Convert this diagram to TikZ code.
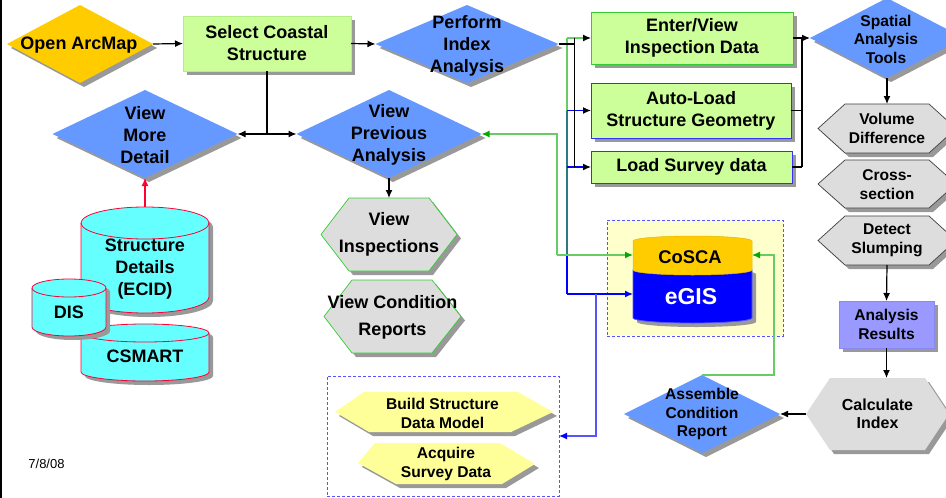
\documentclass[tikz,border=0pt]{standalone}
\usepackage{fontspec}
\setmainfont{Liberation Sans}
\usetikzlibrary{shapes.geometric,shadows,arrows.meta,calc}
\definecolor{gold}{HTML}{FFCC00}
\definecolor{diablue}{HTML}{6699FF}
\definecolor{lgreen}{HTML}{CCFF99}
\definecolor{lgreenb}{HTML}{B5EE88}
\definecolor{bgreen}{HTML}{33CC33}
\definecolor{bblue}{HTML}{3333FF}
\definecolor{hexgray}{HTML}{DDDDDD}
\definecolor{hexedge}{HTML}{404040}
\definecolor{hexyel}{HTML}{FFFF99}
\definecolor{lav}{HTML}{9999FF}
\definecolor{lavb}{HTML}{8888EE}
\definecolor{cyanf}{HTML}{66FFFF}
\definecolor{redb}{HTML}{FF0033}
\definecolor{paleyel}{HTML}{FFFFCC}
\definecolor{shadowgray}{HTML}{999999}
\definecolor{lineg}{HTML}{66CC66}
\definecolor{arrg}{HTML}{00AA00}
\definecolor{teal2}{HTML}{2A7A80}
\definecolor{egisblue}{HTML}{0000FF}
\definecolor{egisedge}{HTML}{5555FF}
\definecolor{dashblue}{HTML}{5555FF}
\definecolor{goldedge}{HTML}{E6B800}
\begin{document}
\begin{tikzpicture}[x=1pt,y=1pt,
  shad/.style={drop shadow={shadow xshift=4pt,shadow yshift=-4pt,fill=shadowgray,opacity=1}},
  bigfont/.style={font=\bfseries\fontsize{18}{22}\selectfont},
  midfont/.style={font=\bfseries\fontsize{15.6}{18.5}\selectfont},
  hexfont/.style={font=\bfseries\fontsize{18}{27}\selectfont},
  lbl/.style={inner sep=0pt,outer sep=0pt,align=center},
  ghost/.style={inner sep=0pt,outer sep=0pt,rectangle},
  dia/.style={diamond,inner sep=0pt,outer sep=0pt,fill=diablue,shad},
  box/.style={rectangle,inner sep=0pt,outer sep=0pt,align=center,fill=lgreen,line width=1pt,shad,bigfont},
  hexg/.style={fill=hexgray,draw=#1,line width=0.7pt,shad},
  hexy/.style={fill=hexyel,shad},
  cyl/.style={fill=cyanf,draw=redb,line width=0.8pt},
  conn/.style={line width=1.2pt,black},
  arr/.style={-{Latex[length=8pt,width=7pt]}},
  arrk/.style={-{Latex[length=8pt,width=7pt,color=black]}},
  arrgr/.style={-{Latex[length=8pt,width=7pt,color=arrg]}},
  dbox/.style={draw=dashblue,line width=1pt,dash pattern=on 3pt off 2pt},
]
\useasboundingbox (0,0) rectangle (946,-498);
\fill[white] (0,0) rectangle (946,-498);
\draw[line width=2pt] (1,0) -- (1,-498);

% dashed group boxes
\node[ghost,dbox,fill=white,minimum width=232pt,minimum height=120pt] (dbl) at (443,-436) {};
\node[ghost,dbox,fill=paleyel,minimum width=176pt,minimum height=116pt] (dbr) at (695,-278) {};

% diamonds
\node[dia,fill=gold,minimum width=146pt,minimum height=78pt] (oa) at (80,-44) {};
\node[lbl,bigfont] (oat) at (79,-45) {Open ArcMap};
\node[dia,minimum width=183pt,minimum height=78pt] (pia) at (467,-44) {};
\node[lbl,bigfont] (piat) at (467,-46) {Perform\\Index\\Analysis};
\node[dia,minimum width=185pt,minimum height=88pt] (vmd) at (145,-134) {};
\node[lbl,bigfont] (vmdt) at (145,-135) {View\\More\\Detail};
\node[dia,minimum width=185pt,minimum height=88pt] (vpa) at (389,-134) {};
\node[lbl,bigfont] (vpat) at (389,-135) {View\\Previous\\Analysis};
\node[dia,minimum width=154pt,minimum height=80pt] (sat) at (887,-38) {};
\node[lbl,midfont] (satt) at (886,-39) {Spatial\\Analysis\\Tools};
\node[dia,minimum width=156pt,minimum height=78pt] (acr) at (702,-414) {};
\node[lbl,midfont] (acrt) at (702,-414) {Assemble\\Condition\\Report};

% boxes
\node[box,draw=lgreenb,minimum width=168pt,minimum height=55pt] (scs) at (267,-43.5) {Select Coastal\\Structure};
\node[box,draw=bgreen,minimum width=202pt,minimum height=52pt] (ev) at (692,-38) {Enter/View\\Inspection Data};
\node[box,draw=bblue,minimum width=200pt,minimum height=55pt] (al) at (691,-110.5) {Auto-Load\\Structure Geometry};
\node[box,draw=bblue,minimum width=201pt,minimum height=32pt] (ls) at (691.5,-167) {Load Survey data};
\node[box,fill=lav,draw=lavb,midfont,minimum width=95pt,minimum height=47pt] (ar) at (886.5,-324.5) {Analysis\\Results};

% grey hexagons
\path[hexg=bgreen] (321,-234.5) -- (349,-198) -- (429,-198) -- (457,-234.5) -- (429,-271) -- (349,-271) -- cycle;
\node[lbl,hexfont,minimum width=80pt,minimum height=73pt] (vi) at (389,-234.5) {View\\Inspections};
\path[hexg=bgreen] (324,-316.5) -- (352,-280) -- (432,-280) -- (461,-316.5) -- (432,-353) -- (352,-353) -- cycle;
\node[lbl,hexfont] (vcr) at (392.5,-317.5) {View Condition\\Reports};
\path[hexg=hexedge] (818,-128.5) -- (845,-104) -- (929,-104) -- (956,-128.5) -- (929,-153) -- (845,-153) -- cycle;
\node[lbl,midfont,minimum height=49pt] (vd) at (887,-128.5) {Volume\\Difference};
\path[hexg=hexedge] (818,-184) -- (845,-160) -- (929,-160) -- (956,-184) -- (929,-208) -- (845,-208) -- cycle;
\node[lbl,midfont,minimum height=48pt] (cs) at (887,-184.5) {Cross-\\section};
\path[hexg=hexedge] (818,-240.5) -- (845,-216) -- (929,-216) -- (956,-240.5) -- (929,-265) -- (845,-265) -- cycle;
\node[lbl,midfont,minimum height=49pt] (ds) at (887,-240.5) {Detect\\Slumping};
\path[fill=hexgray,shad] (806,-414) -- (830,-378) -- (925,-378) -- (949,-414) -- (925,-450) -- (830,-450) -- cycle;
\node[lbl,font=\bfseries\fontsize{16}{18.5}\selectfont,minimum width=143pt,minimum height=72pt] (ci) at (877.5,-414) {Calculate\\Index};

% yellow hexagons
\path[hexy] (335,-412) -- (364,-392) -- (518,-392) -- (553,-412) -- (511,-432) -- (369,-432) -- cycle;
\node[lbl,font=\bfseries\fontsize{15.6}{19}\selectfont] (bsdm) at (442.5,-413.5) {Build Structure\\Data Model};
\path[hexy] (358,-463) -- (375,-443) -- (500,-443) -- (535,-464) -- (502,-484) -- (396,-484) -- cycle;
\node[lbl,font=\bfseries\fontsize{15.6}{19}\selectfont] (asd) at (446,-464) {Acquire\\Survey Data};

% left cylinders
\path[cyl,shad] (81,-223) -- (81,-297) arc[start angle=180,end angle=360,x radius=64,y radius=16] -- (209,-223) arc[start angle=0,end angle=180,x radius=64,y radius=16] -- cycle;
\draw[redb,line width=0.8pt] (81,-223) arc[start angle=180,end angle=360,x radius=64,y radius=16];
\node[ghost,minimum width=128pt,minimum height=106pt] (sd) at (145,-260) {};
\node[lbl,bigfont] (sdt) at (145,-269) {Structure\\Details\\(ECID)};

\path[cyl,shad] (81,-333) -- (81,-372) arc[start angle=180,end angle=360,x radius=64,y radius=9] -- (209,-333) arc[start angle=0,end angle=180,x radius=64,y radius=9] -- cycle;
\draw[redb,line width=0.8pt] (81,-333) arc[start angle=180,end angle=360,x radius=64,y radius=9];
\node[lbl,bigfont] (csm) at (145,-356) {CSMART};

\path[cyl,shad] (32,-288) -- (32,-327) arc[start angle=180,end angle=360,x radius=37,y radius=9] -- (106,-288) arc[start angle=0,end angle=180,x radius=37,y radius=9] -- cycle;
\draw[redb,line width=0.8pt] (32,-288) arc[start angle=180,end angle=360,x radius=37,y radius=9];
\node[lbl,bigfont] (dis) at (69,-312) {DIS};

% CoSCA / eGIS cylinder
\path[fill=egisblue,draw=egisedge,line width=0.8pt,shad] (633,-270) -- (633,-318) arc[start angle=180,end angle=360,x radius=59.5,y radius=5] -- (752,-270) arc[start angle=0,end angle=180,x radius=59.5,y radius=5] -- cycle;
\path[fill=gold,draw=goldedge,line width=0.5pt] (633,-241) -- (633,-270) arc[start angle=180,end angle=360,x radius=59.5,y radius=5] -- (752,-241) arc[start angle=0,end angle=180,x radius=59.5,y radius=5] -- cycle;
\node[ghost,minimum width=119pt,minimum height=38pt] (cosca) at (692.5,-255) {};
\node[ghost,minimum width=119pt,minimum height=58pt] (egis) at (692.5,-294) {};
\node[lbl,font=\bfseries\fontsize{18.4}{22}\selectfont] (coscat) at (690,-257) {CoSCA};
\node[lbl,font=\bfseries\fontsize{23}{26}\selectfont,text=white] (egist) at (691,-297) {eGIS};

% date
\node[lbl,font=\fontsize{13}{15}\selectfont] (date) at (46.5,-464) {7/8/08};

% ---- connectors ----
\draw[conn,arr] (oa.east) -- (scs.west);
\draw[conn,arr] (scs.east) -- (pia.west);
\coordinate (j1) at (scs.south |- vmd.east);
\draw[conn] (scs.south) -- (j1);
\draw[conn,arr] (j1) -- (vmd.east);
\draw[conn,arr] (j1) -- (vpa.west);
\draw[conn,arr] (vpa.south) -- (vi.north);
\draw[line width=1.2pt,redb,arr] (sd.north) -- (vmd.south);

% green trunk
\coordinate (gA) at ($(ev.west)+(-24,0)$);
\coordinate (gB) at (gA |- cosca.west);
\coordinate (gC) at ($(gB)+(-10,0)$);
\coordinate (gD) at (gC |- vpa.east);
% blue trunk
\coordinate (bA) at ($(al.west)+(-24,0)$);
\coordinate (bB) at ($(ls.west)+(-24,0)$);
\coordinate (bC) at (bA |- egis.west);
\coordinate (bD) at ($(bC)+(29,0)$);
\coordinate (bE) at (bD |- dbl.east);

\draw[egisblue,line width=1.2pt] (bA) -- (bC);
\draw[lineg,line width=1.2pt] (gA) -- (bA);
\draw[teal2,line width=1.2pt] (bA) -- (gB);
\draw[lineg,line width=1.2pt,arrgr] (gC) -- (cosca.west);
\draw[lineg,line width=1.2pt,arrgr] (gC) -- (gD) -- (vpa.east);
\draw[lineg,line width=1.2pt,arrk] (gA) -- (ev.west);
\draw[egisblue,line width=1.2pt,arrk] (bA) -- (al.west);
\draw[egisblue,line width=1.2pt,arrk] (bB) -- (ls.west);
\draw[egisblue,line width=1.2pt,-{Latex[length=8pt,width=7pt]}] (bC) -- (egis.west);
\draw[dashblue,line width=1.2pt,-{Latex[length=8pt,width=7pt,color=egisblue]}] (bD) -- (bE) -- (dbl.east);

% black trunk from Perform Index Analysis
\coordinate (kA) at ($(pia.east)+(16,0)$);
\coordinate (kB) at (kA |- ls.west);
\coordinate (kC) at (kA |- ev.west);
\draw[conn] (pia.east) -- (kA);
\draw[conn] (kC) -- (kB);

% to Spatial Analysis Tools
\coordinate (rA) at ($(ev.east)+(9,0)$);
\coordinate (rB) at (rA |- ls.east);
\draw[conn] (rB) -- (rA);
\draw[conn,arr] (ev.east) -- (sat.west);
\draw[conn] (al.east) -- (al.east -| rA);
\draw[conn] (ls.east) -- (rB);

\draw[conn,arr] (sat.south) -- (vd.north);
\draw[conn,arr] (ds.south) -- (ar.north);
\draw[conn,arr] (ar.south) -- (ar.south |- ci.north);
\draw[conn,arr] (ci.west) -- (acr.east);

% Assemble -> CoSCA
\coordinate (aA) at ($(acr.north)+(72,0)$);
\coordinate (aB) at (aA |- cosca.east);
\draw[lineg,line width=1.2pt,arrgr] (acr.north) -- (aA) -- (aB) -- (cosca.east);
\end{tikzpicture}
\end{document}
